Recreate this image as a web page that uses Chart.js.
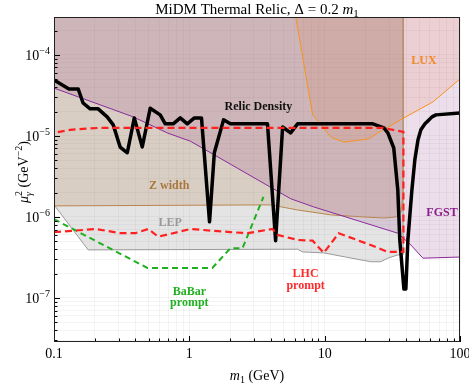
<!DOCTYPE html>
<html>
<head>
<meta charset="utf-8">
<script src="https://cdn.jsdelivr.net/npm/chart.js@4.4.1/dist/chart.umd.min.js"></script>
<style>
  html, body { margin: 0; padding: 0; background: #fff; }
  #chart { display: block; width: 469px; height: 384px; }
</style>
</head>
<body>
<canvas id="chart" width="469" height="384"></canvas>
<script>
// axis ranges (m1 in GeV, mu_gamma^2 in GeV^-2)
const xMin = 0.1, xMax = 100;
const yMin = 2.86e-8, yMax = 2.94e-4;

// relic density curve
const relicX = [0.1, 0.129, 0.151, 0.164, 0.185, 0.212, 0.247, 0.274, 0.308, 0.348, 0.392, 0.449, 0.514, 0.609, 0.664, 0.76, 0.857, 0.966, 1.09, 1.23, 1.41, 1.53, 1.79, 2.01, 3.78, 4.34, 4.89, 5.6, 6.31, 22.7, 27.4, 29.3, 32.4, 34.7, 35.9, 38.5, 39.8, 41.2, 44.1, 46.4, 48.9, 51.4, 55.1, 57.9, 62.1, 66.4, 100];
const relicY = [4.9e-5, 3.8e-5, 3.8e-5, 2.55e-5, 2.16e-5, 2.16e-5, 1.72e-5, 1.37e-5, 7.3e-6, 6.2e-6, 1.67e-5, 7.3e-6, 2.2e-5, 1.82e-5, 1.41e-5, 1.41e-5, 1.67e-5, 1.41e-5, 1.67e-5, 1.67e-5, 8.7e-7, 6.2e-6, 1.58e-5, 1.41e-5, 1.41e-5, 5.1e-7, 1.29e-5, 1.09e-5, 1.41e-5, 1.41e-5, 1.26e-5, 1.09e-5, 7.1e-6, 2.15e-6, 5.2e-7, 1.29e-7, 1.29e-7, 5.2e-7, 2.15e-6, 5.1e-6, 8.9e-6, 1.19e-5, 1.41e-5, 1.53e-5, 1.72e-5, 1.82e-5, 1.92e-5];

// LHC prompt (closed contour: lower edge, vertical, upper edge)
const lhcX = [0.1, 0.205, 0.308, 0.398, 0.497, 0.589, 1.02, 2.01, 2.69, 4.12, 4.49, 6.31, 8.15, 9.84, 12.7, 21.9, 29.3, 38.2, 38.2, 26.9, 0.219, 0.131, 0.1];
const lhcY = [6.5e-7, 7.1e-7, 6.3e-7, 6.3e-7, 7.1e-7, 5.7e-7, 7.1e-7, 6.5e-7, 6.3e-7, 7.1e-7, 6.0e-7, 5.2e-7, 5.1e-7, 3.6e-7, 6.3e-7, 4.5e-7, 3.7e-7, 3.7e-7, 1.12e-5, 1.26e-5, 1.26e-5, 1.19e-5, 1.09e-5];

// BaBar prompt
const babarX = [0.1, 0.489, 1.48, 2.01, 2.47, 3.53];
const babarY = [9.4e-7, 2.35e-7, 2.35e-7, 4.1e-7, 4.1e-7, 1.77e-6];

// FGST bound
const fgstX = [0.1, 0.385, 0.687, 1.02, 5.6, 8.3, 34.7, 43.4, 53.2, 100];
const fgstY = [3.9e-5, 1.72e-5, 1.09e-5, 8.6e-6, 1.68e-6, 1.33e-6, 6.3e-7, 4.5e-7, 3.1e-7, 3.2e-7];

// LUX bound
const luxX = [6.1, 8.15, 11.1, 13.8, 21.2, 24.7, 38.5, 63.1, 100];
const luxY = [3.0e-4, 1.82e-5, 9.7e-6, 8.4e-6, 9.2e-6, 1.09e-5, 1.67e-5, 2.63e-5, 5.06e-5];

// Z width bound
const zX = [0.1, 3.98, 6.31, 11.1, 19.4, 27.4, 33.6, 36.6, 38.0, 38.0];
const zY = [1.37e-6, 1.41e-6, 1.22e-6, 1.06e-6, 1.0e-6, 9.7e-7, 1.0e-6, 1.15e-6, 1.87e-6, 3.0e-4];

// LEP bound
const lepX = [0.1, 0.179, 6.31, 6.87, 9.84, 14.3, 21.9, 26.0, 29.3, 34.7, 38.0, 38.0];
const lepY = [1.41e-6, 3.92e-7, 4.0e-7, 3.7e-7, 3.6e-7, 3.2e-7, 2.8e-7, 2.8e-7, 3.1e-7, 3.4e-7, 3.4e-7, 3.0e-4];

// region labels
const labelText = ['Relic Density', 'LUX', 'Z width', 'LEP', 'BaBar', 'prompt', 'LHC', 'prompt', 'FGST'];
const labelX = [3.24, 54.1, 0.711, 0.722, 1.0, 1.0, 7.23, 7.23, 73.6];
const labelY = [2.28e-5, 8.4e-5, 2.41e-6, 8.4e-7, 1.19e-7, 8.7e-8, 1.98e-7, 1.41e-7, 1.12e-6];
const labelColor = ['#111', '#f0892a', '#a9773f', '#999', '#22b022', '#22b022', '#ff2a2a', '#ff2a2a', '#8a1f8a'];

const SERIF = '"Liberation Serif", "Times New Roman", serif';

function pts(xs, ys) {
  return xs.map((x, i) => ({ x: x, y: ys[i] }));
}

function logTicks(min, max) {
  const out = [];
  for (let e = Math.floor(Math.log10(min)); e <= Math.ceil(Math.log10(max)); e++) {
    for (let k = 1; k <= 9; k++) {
      const v = Number((k * Math.pow(10, e)).toPrecision(6));
      if (v >= min * 0.999 && v <= max * 1.001) out.push({ value: v, major: k === 1 });
    }
  }
  return out;
}

function isDecade(v) {
  const e = Math.log10(v);
  return Math.abs(e - Math.round(e)) < 1e-6;
}

function layoutRuns(ctx, runs) {
  runs.forEach(r => { ctx.font = r.font; r.w = ctx.measureText(r.t).width; r.adv = r.w; });
  runs.forEach((r, i) => {
    if (r.stack) { const p = runs[i - 1]; r.adv = Math.max(p.w, r.w); p.adv = 0; }
  });
  return runs.reduce((s, r) => s + r.adv, 0);
}

function drawRuns(ctx, runs, x, y, align, color) {
  const total = layoutRuns(ctx, runs);
  let cx = align === 'center' ? x - total / 2 : align === 'right' ? x - total : x;
  ctx.fillStyle = color;
  ctx.textAlign = 'left';
  ctx.textBaseline = 'alphabetic';
  runs.forEach(r => {
    ctx.font = r.font;
    ctx.fillText(r.t, cx, y + (r.dy || 0));
    cx += r.adv;
  });
}

const decor = {
  id: 'decor',
  afterDraw(chart) {
    const ctx = chart.ctx;
    const a = chart.chartArea;
    const xs = chart.scales.x, ys = chart.scales.y;
    ctx.save();

    // region labels
    ctx.font = 'bold 12px ' + SERIF;
    ctx.textAlign = 'center';
    ctx.textBaseline = 'middle';
    labelText.forEach((t, i) => {
      ctx.fillStyle = labelColor[i];
      ctx.fillText(t, xs.getPixelForValue(labelX[i]), ys.getPixelForValue(labelY[i]));
    });

    // inward tick marks
    ctx.strokeStyle = '#000';
    ctx.lineWidth = 1;
    ctx.beginPath();
    xs.ticks.forEach(t => {
      const px = Math.round(xs.getPixelForValue(t.value)) + 0.5;
      const len = t.major ? 6 : 3.5;
      ctx.moveTo(px, a.bottom);
      ctx.lineTo(px, a.bottom - len);
    });
    ys.ticks.forEach(t => {
      const py = Math.round(ys.getPixelForValue(t.value)) + 0.5;
      const len = t.major ? 6 : 3.5;
      ctx.moveTo(a.left, py);
      ctx.lineTo(a.left + len, py);
    });
    ctx.stroke();

    // frame
    ctx.strokeStyle = '#222';
    ctx.strokeRect(a.left + 0.5, a.top + 0.5, a.right - a.left - 1, a.bottom - a.top - 1);

    // y tick labels (10^n)
    ys.ticks.forEach(t => {
      if (!isDecade(t.value)) return;
      const e = Math.round(Math.log10(t.value));
      const py = ys.getPixelForValue(t.value);
      drawRuns(ctx, [
        { t: '10', font: '14px ' + SERIF },
        { t: '\u2212' + Math.abs(e), font: '10px ' + SERIF, dy: -6 }
      ], a.left - 4, py + 5, 'right', '#000');
    });

    // title
    drawRuns(ctx, [
      { t: 'MiDM Thermal Relic, \u0394 = 0.2 ', font: '15px ' + SERIF },
      { t: 'm', font: 'italic 15px ' + SERIF },
      { t: '1', font: '11px ' + SERIF, dy: 3 }
    ], (a.left + a.right) / 2, 14, 'center', '#000');

    // x title
    drawRuns(ctx, [
      { t: 'm', font: 'italic 14px ' + SERIF },
      { t: '1', font: '10px ' + SERIF, dy: 3 },
      { t: ' (GeV)', font: '14px ' + SERIF }
    ], (a.left + a.right) / 2, 380, 'center', '#000');

    // y title
    ctx.translate(28, 172);
    ctx.rotate(-Math.PI / 2);
    drawRuns(ctx, [
      { t: '\u03bc', font: 'italic 14px ' + SERIF },
      { t: '\u03b3', font: 'italic 10px ' + SERIF, dy: 4 },
      { t: '2', font: '10px ' + SERIF, dy: -6, stack: true },
      { t: ' (GeV', font: '14px ' + SERIF },
      { t: '\u22122', font: '10px ' + SERIF, dy: -6 },
      { t: ')', font: '14px ' + SERIF }
    ], 0, 0, 'center', '#000');

    ctx.restore();
  }
};

const lineBase = { pointRadius: 0, tension: 0, fill: false };

new Chart(document.getElementById('chart'), {
  type: 'line',
  data: {
    datasets: [
      Object.assign({}, lineBase, { label: 'LHC prompt', data: pts(lhcX, lhcY), borderColor: '#ff2020', borderWidth: 2.2, borderDash: [7, 4] }),
      Object.assign({}, lineBase, { label: 'BaBar prompt', data: pts(babarX, babarY), borderColor: '#1fb01f', borderWidth: 2, borderDash: [6, 4] }),
      Object.assign({}, lineBase, { label: 'Relic Density', data: pts(relicX, relicY), borderColor: '#000', borderWidth: 3.5, borderJoinStyle: 'round' }),
      Object.assign({}, lineBase, { label: 'LUX', data: pts(luxX, luxY), borderColor: '#f7931e', borderWidth: 1, fill: 'end', backgroundColor: 'rgba(220,120,70,0.15)' }),
      Object.assign({}, lineBase, { label: 'FGST', data: pts(fgstX, fgstY), borderColor: '#8b2a9b', borderWidth: 1, fill: 'end', backgroundColor: 'rgba(140,50,130,0.16)' }),
      Object.assign({}, lineBase, { label: 'Z width', data: pts(zX, zY), borderColor: '#b98550', borderWidth: 1, fill: 'end', backgroundColor: 'rgba(170,115,60,0.2)' }),
      Object.assign({}, lineBase, { label: 'LEP', data: pts(lepX, lepY), borderColor: '#9a9a9a', borderWidth: 1, fill: 'end', backgroundColor: 'rgba(120,120,120,0.2)' })
    ]
  },
  options: {
    responsive: false,
    animation: false,
    events: [],
    layout: { padding: { top: 17, right: 9, bottom: 0, left: 0 } },
    plugins: {
      legend: { display: false },
      tooltip: { enabled: false },
      filler: { drawTime: 'beforeDatasetsDraw' }
    },
    scales: {
      x: {
        type: 'logarithmic',
        min: xMin,
        max: xMax,
        afterBuildTicks: s => { s.ticks = logTicks(xMin, xMax); },
        afterFit: s => { s.height = 42; s.paddingLeft = 0; s.paddingRight = 0; },
        border: { display: false },
        grid: { color: 'rgba(0,0,0,0.045)', drawTicks: false },
        ticks: {
          autoSkip: false,
          maxRotation: 0,
          padding: 4,
          color: '#000',
          font: { family: SERIF, size: 14 },
          callback: v => isDecade(v) ? String(Number(v.toPrecision(3))) : ''
        }
      },
      y: {
        type: 'logarithmic',
        min: yMin,
        max: yMax,
        afterBuildTicks: s => { s.ticks = logTicks(yMin, yMax); },
        afterFit: s => { s.width = 54; },
        border: { display: false },
        grid: { color: 'rgba(0,0,0,0.045)', drawTicks: false },
        ticks: { display: false }
      }
    }
  },
  plugins: [decor]
});
</script>
</body>
</html>
